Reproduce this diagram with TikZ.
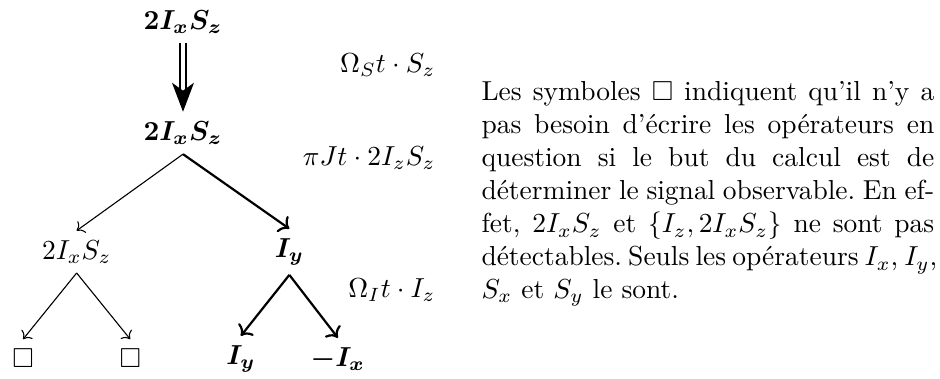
\documentclass[tikz,border=0pt]{standalone}
\usepackage{fontspec}
\usepackage{amsmath}
\usepackage{amssymb}
\usepackage{xcolor}
\usepackage{tikz}
\usetikzlibrary{positioning,arrows.meta}

\begin{document}
\begin{tikzpicture}[
    edge from parent/.style={draw,->},
    parent anchor=south, child anchor=north,
    rate/.style={anchor=east}]
                    \useasboundingbox (0,0) rectangle (12.02,-4.846);
                    \node (start) at (2.34,-0.28) {$\boldsymbol{2I_xS_z}$};
                    \node (mid) at (2.34,-1.70) {$\boldsymbol{2I_xS_z}$}
                    [level distance=1.52cm, sibling distance=2.72cm]
                    child {node (left) {$2I_xS_z$}
                           [level distance=1.36cm, sibling distance=1.37cm]
                           child {node (a) {$\square$}}
                           child {node (b) {$\square$}}
                    }
                    child {node (right) {$\boldsymbol{I_y}$}
                           [level distance=1.37cm, sibling distance=1.24cm]
                           child {node (c) {$\boldsymbol{I_y}$} edge from parent[thick]}
                           child {node (d) {$\boldsymbol{-I_x}$} edge from parent[thick]}
                           edge from parent[thick]
                    };
                    \draw[double, double distance=1.5pt, semithick, -{Stealth[length=3.7mm,width=2.8mm,inset=1mm]}] (start) -- (mid);
                    \node[rate] (ls) at (5.69,-0.83) {$\Omega_S t\cdot S_z$};
                    \node[rate] (lj) at (5.69,-2.02) {$\pi J t\cdot 2I_zS_z$};
                    \node[rate] (li) at (5.69,-3.71) {$\Omega_I t\cdot I_z$};
                    \node[text width=5.79cm, align=justify, inner sep=0pt, anchor=north west,
                          font=\fontsize{10pt}{12pt}\selectfont] (note) at (6.15,-1.04)
                    {\frenchspacing\hfuzz=8pt Les symboles $\square$ indiquent qu'il n'y a\linebreak
                     pas besoin d'écrire les opérateurs en\linebreak
                     question si le but du calcul est de\linebreak
                     déterminer le signal observable. En ef-\linebreak
                     fet, $2I_xS_z$ et $\{I_z,2I_xS_z\}$ ne sont pas\linebreak
                     \mbox{détectables.}~Seuls~les~\mbox{opérateurs}~$I_x$,~$I_y$,\linebreak
                     $S_x$ et $S_y$ le sont.\par};
                \end{tikzpicture}
\end{document}
